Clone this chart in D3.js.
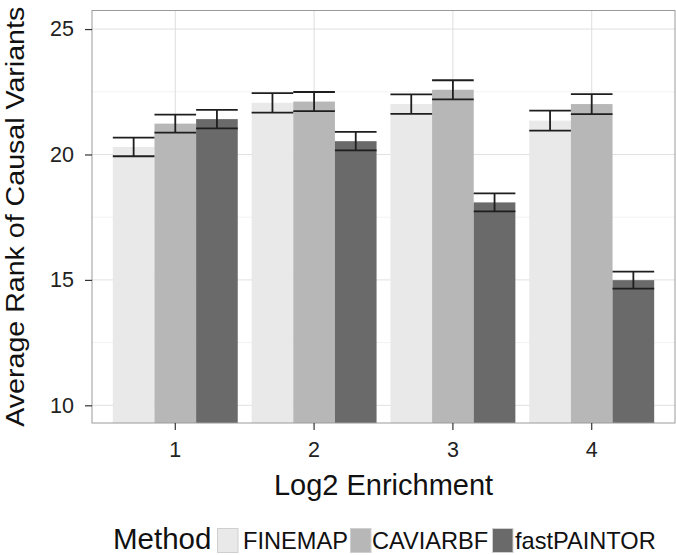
<!DOCTYPE html>
<html>
<head>
<meta charset="utf-8">
<script src="https://cdn.jsdelivr.net/npm/d3@7"></script>
<style>
  html, body { margin: 0; padding: 0; background: #fff; }
  svg { display: block; font-family: "Liberation Sans", Arial, Helvetica, sans-serif; }
</style>
</head>
<body>
<svg id="chart" width="676" height="555"></svg>
<script>
// ---- data ----
const categories = ["1", "2", "3", "4"];
const methods = ["FINEMAP", "CAVIARBF", "fastPAINTOR"];
const finemapMean = [20.30, 22.06, 22.01, 21.35];
const caviarbfMean = [21.23, 22.11, 22.58, 22.01];
const fastpaintorMean = [21.41, 20.53, 18.09, 14.99];
const finemapErr = [0.37, 0.39, 0.39, 0.40];
const caviarbfErr = [0.36, 0.38, 0.38, 0.40];
const fastpaintorErr = [0.37, 0.37, 0.36, 0.34];
const yTicks = [10, 15, 20, 25];
const yMinorTicks = [12.5, 17.5, 22.5];
const fills = ["#E9E9E9", "#B7B7B7", "#6A6A6A"];

const means = [finemapMean, caviarbfMean, fastpaintorMean];
const errs = [finemapErr, caviarbfErr, fastpaintorErr];
const rows = [];
categories.forEach((c, i) => {
  methods.forEach((m, j) => {
    rows.push({ cat: c, method: m, mean: means[j][i], err: errs[j][i] });
  });
});

// ---- layout ----
const svg = d3.select("#chart");
const P = { left: 92, right: 675, top: 10.5, bottom: 423 };

const x = d3.scaleBand().domain(categories).range([P.left, P.right])
  .paddingInner(0.1).paddingOuter(0.15);
const xm = d3.scaleBand().domain(methods).range([0, x.bandwidth()]).padding(0);
const y = d3.scaleLinear().domain([9.295, 25.74]).range([P.bottom, P.top]);
const color = d3.scaleOrdinal().domain(methods).range(fills);

svg.append("defs").append("clipPath").attr("id", "clip")
  .append("rect").attr("x", P.left).attr("y", P.top)
  .attr("width", P.right - P.left).attr("height", P.bottom - P.top);

// grid
const grid = svg.append("g");
grid.selectAll("line.minor").data(yMinorTicks).join("line")
  .attr("x1", P.left).attr("x2", P.right)
  .attr("y1", d => y(d)).attr("y2", d => y(d))
  .attr("stroke", "#f2f2f2").attr("stroke-width", 1);
grid.selectAll("line.majory").data(yTicks).join("line")
  .attr("x1", P.left).attr("x2", P.right)
  .attr("y1", d => y(d)).attr("y2", d => y(d))
  .attr("stroke", "#e1e1e1").attr("stroke-width", 1);
grid.selectAll("line.majorx").data(categories).join("line")
  .attr("y1", P.top).attr("y2", P.bottom)
  .attr("x1", d => x(d) + x.bandwidth() / 2).attr("x2", d => x(d) + x.bandwidth() / 2)
  .attr("stroke", "#dedede").attr("stroke-width", 1);

// bars
const plot = svg.append("g").attr("clip-path", "url(#clip)");
plot.selectAll("rect.bar").data(rows).join("rect")
  .attr("x", d => x(d.cat) + xm(d.method))
  .attr("width", xm.bandwidth())
  .attr("y", d => y(d.mean))
  .attr("height", d => y(0) - y(d.mean))
  .attr("fill", d => color(d.method));

// error bars
const eb = plot.selectAll("g.err").data(rows).join("g")
  .attr("stroke", "#1e1e1e").attr("stroke-width", 1.8).attr("fill", "none");
eb.append("line")
  .attr("x1", d => x(d.cat) + xm(d.method) + xm.bandwidth() / 2)
  .attr("x2", d => x(d.cat) + xm(d.method) + xm.bandwidth() / 2)
  .attr("y1", d => y(d.mean + d.err)).attr("y2", d => y(d.mean - d.err));
eb.append("line")
  .attr("x1", d => x(d.cat) + xm(d.method))
  .attr("x2", d => x(d.cat) + xm(d.method) + xm.bandwidth())
  .attr("y1", d => y(d.mean + d.err)).attr("y2", d => y(d.mean + d.err));
eb.append("line")
  .attr("x1", d => x(d.cat) + xm(d.method))
  .attr("x2", d => x(d.cat) + xm(d.method) + xm.bandwidth())
  .attr("y1", d => y(d.mean - d.err)).attr("y2", d => y(d.mean - d.err));

// panel border
svg.append("rect").attr("x", P.left).attr("y", P.top)
  .attr("width", P.right - P.left).attr("height", P.bottom - P.top)
  .attr("fill", "none").attr("stroke", "#9a9a9a").attr("stroke-width", 1);

// axes
const yAxis = svg.append("g").attr("transform", `translate(${P.left},0)`)
  .call(d3.axisLeft(y).tickValues(yTicks).tickSize(7).tickPadding(11).tickFormat(d3.format("d")));
const xAxis = svg.append("g").attr("transform", `translate(0,${P.bottom})`)
  .call(d3.axisBottom(x).tickSize(7).tickPadding(12));
[yAxis, xAxis].forEach(a => {
  a.select(".domain").remove();
  a.selectAll(".tick line").attr("stroke", "#333").attr("stroke-width", 1.2);
  a.selectAll(".tick text").attr("fill", "#222").style("font-size", "21.5px")
    .style("font-family", "'Liberation Sans', Arial, sans-serif");
});

// axis titles
svg.append("text").attr("x", (P.left + P.right) / 2).attr("y", 495)
  .attr("text-anchor", "middle").attr("fill", "#111").style("font-size", "29px")
  .text("Log2 Enrichment");
svg.append("text").attr("transform", `translate(24,${(P.top + P.bottom) / 2}) rotate(-90)`)
  .attr("text-anchor", "middle").attr("fill", "#111").style("font-size", "25.5px")
  .attr("textLength", 420).attr("lengthAdjust", "spacingAndGlyphs")
  .text("Average Rank of Causal Variants");

// legend
const lg = svg.append("g");
lg.append("text").attr("x", 113).attr("y", 549).attr("fill", "#111")
  .style("font-size", "29.5px").text("Method");
const keyX = [217, 350, 492];
const labX = [243, 372, 515];
methods.forEach((m, i) => {
  lg.append("rect").attr("x", keyX[i] + 0.5).attr("y", 528.5)
    .attr("width", 20.5).attr("height", 24)
    .attr("fill", color(m)).attr("stroke", "#cfcfcf").attr("stroke-width", 1);
  lg.append("text").attr("x", labX[i]).attr("y", 548.5).attr("fill", "#111")
    .style("font-size", "23.6px").text(m);
});
</script>
</body>
</html>
